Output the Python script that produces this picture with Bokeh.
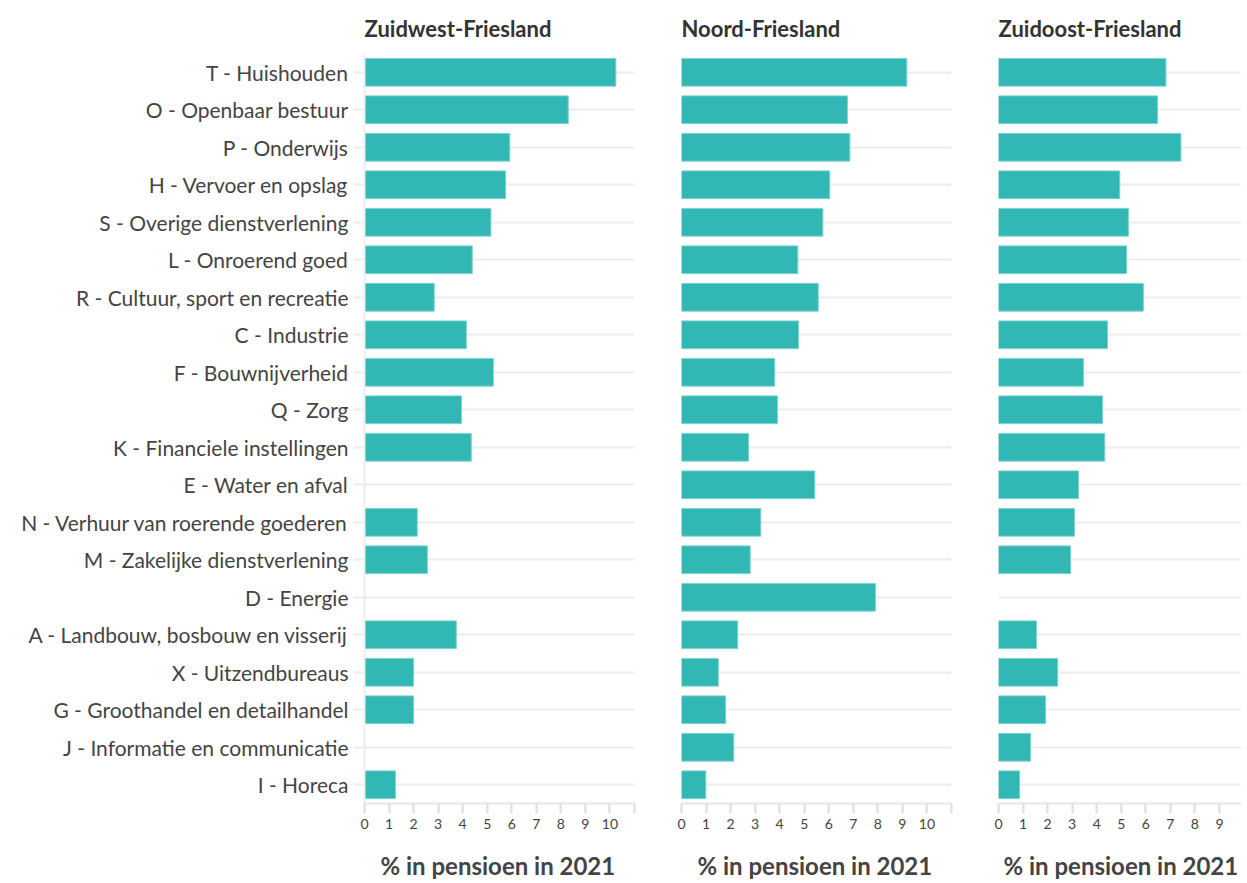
from bokeh.plotting import figure
from bokeh.models import FactorRange, Range1d, FixedTicker, Title, ColumnDataSource
from bokeh.layouts import row
from bokeh.embed import file_html
from bokeh.resources import INLINE

categories = ["T - Huishouden", "O - Openbaar bestuur", "P - Onderwijs", "H - Vervoer en opslag",
              "S - Overige dienstverlening", "L - Onroerend goed", "R - Cultuur, sport en recreatie",
              "C - Industrie", "F - Bouwnijverheid", "Q - Zorg", "K - Financiele instellingen",
              "E - Water en afval", "N - Verhuur van roerende goederen", "M - Zakelijke dienstverlening",
              "D - Energie", "A - Landbouw, bosbouw en visserij", "X - Uitzendbureaus",
              "G - Groothandel en detailhandel", "J - Informatie en communicatie", "I - Horeca"]

regions = ["Zuidwest-Friesland", "Noord-Friesland", "Zuidoost-Friesland"]
zuidwest = [10.24, 8.30, 5.92, 5.75, 5.15, 4.39, 2.84, 4.15, 5.25, 3.95, 4.35, None, 2.15, 2.56,
            None, 3.74, 2.0, 2.0, None, 1.26]
noord = [9.18, 6.76, 6.86, 6.04, 5.76, 4.74, 5.57, 4.77, 3.8, 3.91, 2.73, 5.43, 3.23, 2.8,
         7.9, 2.29, 1.5, 1.8, 2.13, 0.99]
zuidoost = [6.82, 6.48, 7.43, 4.94, 5.29, 5.22, 5.9, 4.44, 3.46, 4.24, 4.33, 3.26, 3.1, 2.94,
            None, 1.55, 2.41, 1.92, 1.31, 0.86]
series = [zuidwest, noord, zuidoost]
x_ticks = list(range(0, 12))
axis_title = "% in pensioen in 2021"

FONT = "Lato"
BAR = "#32b8b4"
GRID = "#ececec"
PX_PER_UNIT = 24.55
FRAME_H = 750

def make_panel(name, vals, frame_w, border_left, border_right, x_end, show_labels, title_offset):
    cats = [c for c, v in zip(categories, vals) if v is not None]
    xs = [v for v in vals if v is not None]
    src = ColumnDataSource(dict(cat=cats, val=xs))
    p = figure(y_range=FactorRange(factors=list(reversed(categories))),
               x_range=Range1d(0, x_end),
               frame_width=frame_w, frame_height=FRAME_H,
               output_backend="svg", toolbar_location=None,
               min_border_left=border_left, min_border_right=border_right,
               min_border_top=52, min_border_bottom=0)
    p.hbar(y="cat", right="val", left=0, height=0.74, source=src,
           fill_color=BAR, line_color="#7fd2cf", line_width=1)
    p.outline_line_color = None
    p.background_fill_color = "white"
    p.border_fill_color = "white"
    p.xgrid.visible = False
    p.ygrid.grid_line_color = GRID
    p.ygrid.grid_line_width = 2

    xa = p.xaxis[0]
    ticks = [t for t in x_ticks if t <= x_end + 0.01]
    xa.ticker = FixedTicker(ticks=ticks)
    xa.major_label_overrides = {11: ""}
    xa.minor_tick_line_color = None
    xa.major_tick_in = 0
    xa.major_tick_out = 10
    xa.major_tick_line_color = "#dddddd"
    xa.major_tick_line_width = 2
    xa.axis_line_color = "#e6e6e6"
    xa.axis_line_width = 2
    xa.major_label_text_font = FONT
    xa.major_label_text_font_size = "14px"
    xa.major_label_text_color = "#444444"
    xa.major_label_standoff = 5

    ya = p.yaxis[0]
    if show_labels:
        ya.major_tick_in = 0
        ya.major_tick_out = 11
        ya.major_tick_line_color = GRID
        ya.major_tick_line_width = 2
        ya.axis_line_color = "#eeeeee"
        ya.axis_line_width = 2
        ya.major_label_text_font = FONT
        ya.major_label_text_font_size = "21px"
        ya.major_label_text_color = "#444444"
        ya.major_label_standoff = 5
    else:
        ya.visible = False

    p.title.text = name
    p.title.align = "left"
    p.title.text_font = FONT
    p.title.text_font_size = "22px"
    p.title.text_font_style = "bold"
    p.title.text_color = "#333333"
    p.title.standoff = 24

    bt = Title(text=axis_title, align="left", offset=title_offset, text_font=FONT,
               text_font_size="24px", text_font_style="bold", text_color="#444444",
               standoff=34)
    p.add_layout(bt, "below")
    return p

frame_w = int(round(11 * PX_PER_UNIT))
p1 = make_panel(regions[0], series[0], frame_w, 364, 10, 11, True, 16)
p2 = make_panel(regions[1], series[1], frame_w, 37, 10, 11, False, 16)
w3 = 243
p3 = make_panel(regions[2], series[2], w3, 37, 0, w3 / PX_PER_UNIT, False, 5)

layout = row(p1, p2, p3)
open("out.html", "w").write(file_html(layout, INLINE))
